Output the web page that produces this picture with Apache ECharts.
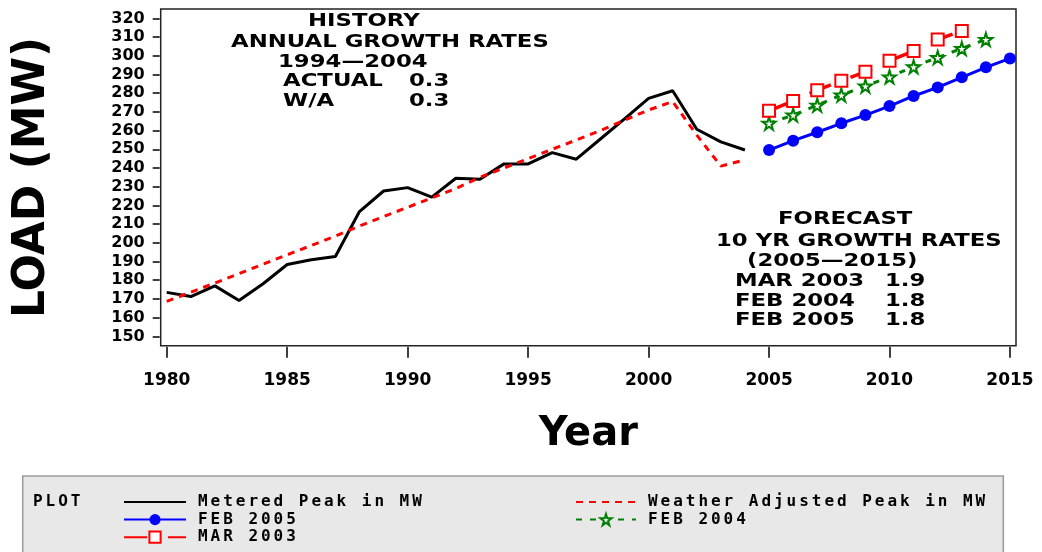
<!DOCTYPE html>
<html>
<head>
<meta charset="utf-8">
<script src="https://cdn.jsdelivr.net/npm/echarts@6/dist/echarts.min.js"></script>
<style>
  html, body { margin: 0; padding: 0; background: #fff; }
  #chart { width: 1042px; height: 552px; }
</style>
</head>
<body>
<div id="chart"></div>
<script>
// history
const years = [1980, 1981, 1982, 1983, 1984, 1985, 1986, 1987, 1988, 1989, 1990, 1991, 1992,
  1993, 1994, 1995, 1996, 1997, 1998, 1999, 2000, 2001, 2002, 2003, 2004]
const metered = [173.5, 171.3, 177, 169.2, 178.1, 188.4, 190.9, 192.7, 216.7, 227.7, 229.5, 224.4, 234.5,
  234, 242.2, 242.2, 248.2, 244.7, 255.5, 266.3, 277.2, 281.3, 260.7, 254, 249.6]
const weatherAdj = [168.7, 173.6, 178.5, 183.5, 188.6, 193.6, 198.6, 203.6, 209, 214, 219, 224, 229,
  235, 240, 245, 250, 255, 260, 265.6, 271, 275.5, 257.6, 241, 244.3]

// forecasts
const forecastYears = [2005, 2006, 2007, 2008, 2009, 2010, 2011, 2012, 2013, 2014, 2015]
const feb2005 = [249.6, 254.6, 259.1, 263.9, 268.3, 273.1, 278.5, 283.1, 288.5, 293.8, 298.6]
const mar2003 = [270.6, 275.8, 281.6, 286.6, 291.4, 297.3, 302.5, 308.7, 313.3]
const feb2004 = [263.9, 268.3, 273.6, 279, 283.8, 288.7, 294.1, 299.1, 303.9, 308.7]

// ticks
const xTicks = [1980, 1985, 1990, 1995, 2000, 2005, 2010, 2015]
const yTicks = [150, 160, 170, 180, 190, 200, 210, 220, 230, 240, 250, 260, 270, 280, 290, 300, 310, 320]

const pair = (xs, ys) => ys.map((v, i) => [xs[i], v])

const star = 'path://M50,0 L61,35 L98,35 L68,57 L79,91 L50,70 L21,91 L32,57 L2,35 L39,35 Z'

// annotation text, stretched a bit to get the wide look
const note = (text, x, y) => ({
  type: 'text',
  x: x,
  y: y,
  scaleX: 1.34,
  z: 10,
  style: {
    text: text,
    font: 'bold 17px "DejaVu Sans"',
    fill: '#000',
    verticalAlign: 'middle'
  }
})

// wide fixed pitch for the legend font: one rich token per character
const spaced = (s) => '{g| }' + s.split('').map(c => '{c|' + c + '}').join('')

const monoRich = {
  g: { width: 7, fontSize: 16 },
  c: {
    width: 12.6,
    fontFamily: 'DejaVu Sans Mono',
    fontWeight: 'bold',
    fontSize: 16,
    lineHeight: 14,
    color: '#000'
  }
}

const noSymbol = { color: 'rgba(0,0,0,0)', borderWidth: 0 }

const chart = echarts.init(document.getElementById('chart'))

const legendBase = {
  orient: 'vertical',
  top: 494,
  height: 70,
  padding: 0,
  itemHeight: 14,
  itemGap: 1.6,
  formatter: spaced,
  textStyle: { lineHeight: 14, rich: monoRich }
}

const option = {
  animation: false,
  backgroundColor: '#fff',
  grid: {
    left: 160.7,
    top: 9,
    right: 26,
    bottom: 206.3,
    show: true,
    borderColor: '#222',
    borderWidth: 1.5,
    backgroundColor: '#fff'
  },
  xAxis: {
    type: 'value',
    min: 1979.75,
    max: 2015.25,
    offset: 1,
    name: 'Year',
    nameLocation: 'middle',
    nameGap: 68,
    nameTextStyle: {
      fontFamily: 'DejaVu Sans',
      fontWeight: 'bold',
      fontSize: 40,
      color: '#000'
    },
    axisLine: { show: false },
    axisTick: {
      show: true,
      length: 11,
      customValues: xTicks,
      lineStyle: { color: '#000', width: 1.5 }
    },
    axisLabel: {
      customValues: xTicks,
      formatter: (v) => String(v),
      margin: 25,
      fontFamily: 'DejaVu Sans',
      fontWeight: 'bold',
      fontSize: 17,
      color: '#000'
    },
    splitLine: { show: false }
  },
  yAxis: {
    type: 'value',
    min: 145,
    max: 325,
    offset: 1,
    name: 'LOAD (MW)',
    nameLocation: 'middle',
    nameRotate: 90,
    nameGap: 105,
    nameTextStyle: {
      fontFamily: 'DejaVu Sans',
      fontWeight: 'bold',
      fontSize: 44,
      color: '#000'
    },
    axisLine: { show: false },
    axisTick: {
      show: true,
      length: 7,
      customValues: yTicks,
      lineStyle: { color: '#000', width: 1.5 }
    },
    axisLabel: {
      customValues: yTicks,
      margin: 15,
      fontFamily: 'DejaVu Sans',
      fontWeight: 'bold',
      fontSize: 16,
      color: '#000'
    },
    splitLine: { show: false }
  },
  legend: [
    Object.assign({}, legendBase, {
      left: 123,
      itemWidth: 62,
      data: [
        { name: 'Metered Peak in MW', itemStyle: noSymbol },
        'FEB 2005',
        'MAR 2003'
      ]
    }),
    Object.assign({}, legendBase, {
      left: 575,
      itemWidth: 60,
      data: [
        { name: 'Weather Adjusted Peak in MW', itemStyle: noSymbol },
        'FEB 2004'
      ]
    })
  ],
  graphic: [
    {
      type: 'rect',
      z: -1,
      shape: { x: 22.7, y: 476, width: 980.6, height: 90 },
      style: { fill: '#e8e8e8', stroke: '#9a9a9a', lineWidth: 1.5 }
    },
    {
      type: 'text',
      x: 26,
      y: 502,
      style: { text: spaced('PLOT'), rich: monoRich, verticalAlign: 'middle' }
    },
    note('HISTORY', 308, 22),
    note('ANNUAL GROWTH RATES', 231, 43),
    note('1994\u20142004', 278, 63),
    note('ACTUAL', 283, 82),
    note('0.3', 409, 82),
    note('W/A', 283, 102),
    note('0.3', 409, 102),
    note('FORECAST', 778, 220),
    note('10 YR GROWTH RATES', 716, 242),
    note('(2005\u20142015)', 747, 262),
    note('MAR 2003', 735, 282),
    note('1.9', 885, 282),
    note('FEB 2004', 735, 302),
    note('1.8', 885, 302),
    note('FEB 2005', 735, 321),
    note('1.8', 885, 321)
  ],
  series: [
    {
      name: 'Metered Peak in MW',
      type: 'line',
      data: pair(years, metered),
      symbol: 'none',
      color: '#000',
      lineStyle: { color: '#000', width: 3 }
    },
    {
      name: 'Weather Adjusted Peak in MW',
      type: 'line',
      data: pair(years, weatherAdj),
      symbol: 'none',
      color: '#ff0000',
      lineStyle: { color: '#ff0000', width: 3, type: [7, 6] }
    },
    {
      name: 'FEB 2005',
      type: 'line',
      data: pair(forecastYears, feb2005),
      symbol: 'circle',
      symbolSize: 12,
      itemStyle: { color: '#0000ff' },
      lineStyle: { color: '#0000ff', width: 3 }
    },
    {
      name: 'FEB 2004',
      type: 'line',
      data: pair(forecastYears, feb2004),
      symbol: star,
      symbolSize: 13,
      itemStyle: { color: '#fff', borderColor: '#008000', borderWidth: 2 },
      lineStyle: { color: '#008000', width: 3, type: [6, 8] }
    },
    {
      name: 'MAR 2003',
      type: 'line',
      data: pair(forecastYears, mar2003),
      symbol: 'emptyRect',
      symbolSize: 12,
      itemStyle: { color: '#ff0000', borderWidth: 1.5 },
      lineStyle: { color: '#ff0000', width: 3.5, type: [23, 21] }
    }
  ]
}

chart.setOption(option)
</script>
</body>
</html>
